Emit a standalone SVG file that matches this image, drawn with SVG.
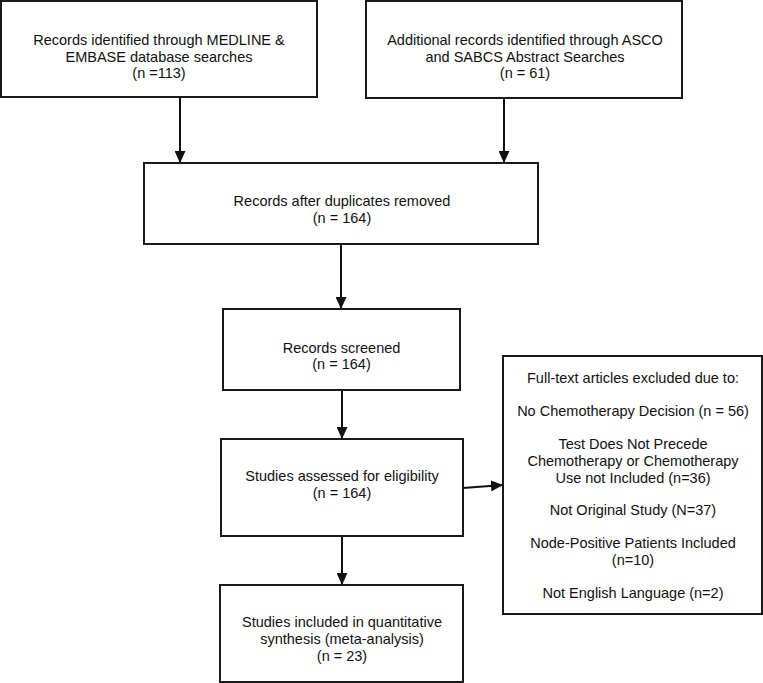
<svg xmlns="http://www.w3.org/2000/svg" width="763" height="683" viewBox="0 0 763 683">
<style>
.box{fill:#fff;stroke:#1a1a1a;stroke-width:2}
text{font-family:"Liberation Sans",Arial,Helvetica,sans-serif;font-size:14.5px;fill:#111;text-anchor:middle}
.conn{stroke:#111;stroke-width:2;fill:none;marker-end:url(#ah)}
</style>
<defs>
<marker id="ah" markerUnits="userSpaceOnUse" markerWidth="12" markerHeight="11" refX="12" refY="5.5" orient="auto">
<path d="M0,0 L12,5.5 L0,11 z" fill="#111"/>
</marker>
</defs>
<rect width="763" height="683" fill="#fff"/>
<g id="connectors">
<line class="conn" x1="180" y1="97" x2="180" y2="163"/>
<line class="conn" x1="504" y1="98" x2="504" y2="163"/>
<line class="conn" x1="341" y1="244" x2="341" y2="309"/>
<line class="conn" x1="342" y1="390" x2="342" y2="439"/>
<line class="conn" x1="342" y1="536" x2="342" y2="585"/>
<line class="conn" x1="463" y1="488" x2="503" y2="485"/>
</g>
<g id="n1">
<rect class="box" x="1" y="1" width="316" height="96"/>
<text x="159" y="45">Records identified through MEDLINE &amp;</text>
<text x="159" y="61.5">EMBASE database searches</text>
<text x="159" y="78">(n =113)</text>
</g>
<g id="n2">
<rect class="box" x="366" y="1" width="316" height="97"/>
<text x="525" y="45">Additional records identified through ASCO</text>
<text x="525" y="61.5">and SABCS Abstract Searches</text>
<text x="525" y="78">(n = 61)</text>
</g>
<g id="n3">
<rect class="box" x="144" y="163" width="394" height="81"/>
<text x="342" y="206">Records after duplicates removed</text>
<text x="342" y="223">(n = 164)</text>
</g>
<g id="n4">
<rect class="box" x="223" y="309" width="237" height="81"/>
<text x="341.5" y="352.5">Records screened</text>
<text x="341.5" y="369">(n = 164)</text>
</g>
<g id="n5">
<rect class="box" x="221" y="439" width="242" height="97"/>
<text x="342" y="481">Studies assessed for eligibility</text>
<text x="342" y="497.5">(n = 164)</text>
</g>
<g id="n6">
<rect class="box" x="220" y="585" width="243" height="97"/>
<text x="342" y="627">Studies included in quantitative</text>
<text x="342" y="644">synthesis (meta-analysis)</text>
<text x="342" y="660.5">(n = 23)</text>
</g>
<g id="excluded">
<rect class="box" x="503" y="356" width="259" height="258"/>
<text x="633" y="383">Full-text articles excluded due to:</text>
<text x="633" y="416">No Chemotherapy Decision (n = 56)</text>
<text x="633" y="449">Test Does Not Precede</text>
<text x="633" y="466">Chemotherapy or Chemotherapy</text>
<text x="633" y="483">Use not Included (n=36)</text>
<text x="633" y="515">Not Original Study (N=37)</text>
<text x="633" y="548">Node-Positive Patients Included</text>
<text x="633" y="565">(n=10)</text>
<text x="633" y="598">Not English Language (n=2)</text>
</g>
</svg>
